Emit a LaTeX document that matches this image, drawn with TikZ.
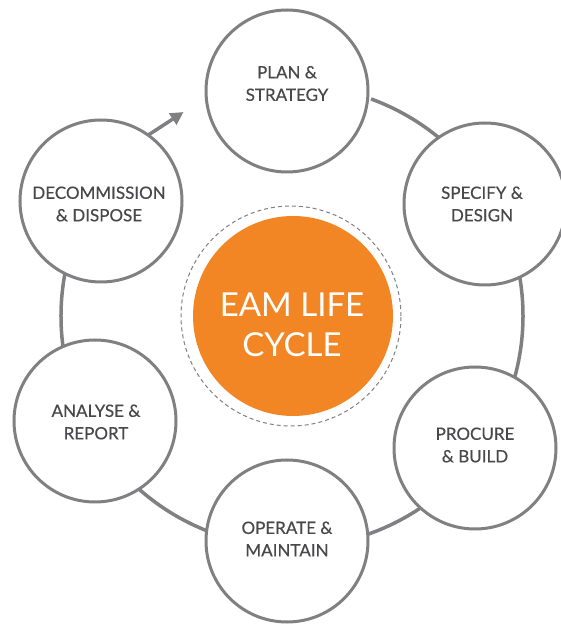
\documentclass[tikz,border=0pt]{standalone}
\usepackage{fontspec}
\setmainfont{Lato}
\newfontfamily\stagefont[FakeBold=0.4]{Lato}
\usetikzlibrary{arrows.meta,calc}
\definecolor{ringgray}{RGB}{128,128,131}
\definecolor{txtgray}{RGB}{72,72,74}
\definecolor{eamorange}{RGB}{243,134,36}
\begin{document}
\begin{tikzpicture}[x=1pt,y=1pt,
  stage/.style={circle,draw=ringgray,line width=3pt,fill=white,minimum size=162pt,inner sep=0pt},
  stagetext/.style={text=txtgray,font=\stagefont\fontsize{17}{22.5}\selectfont,align=center,inner sep=0pt},
  ringline/.style={draw=ringgray,line width=3.5pt},
  hubtext/.style={text=white,font=\fontsize{33}{40}\selectfont,align=center,inner sep=0pt}]
\useasboundingbox (0,0) rectangle (561,625);
\fill[white] (0,0) rectangle (561,625);
\coordinate (ringc) at (292,309);
% outer ring
\draw[ringline] (ringc) ++(128:231) arc[start angle=128,end angle=430,radius=231];
% centre
\node[circle,draw=ringgray,dashed,dash pattern=on 4pt off 3pt,line width=1pt,minimum size=220pt,inner sep=0pt] (dash) at (291,309) {};
\node[circle,fill=eamorange,minimum size=200pt,inner sep=0pt] (hub) at (293,309) {};
\node[hubtext] (hubt) at (292,300.5) {EAM LIFE\\CYCLE};
% stages
\node[stage] (plan) at (287,534) {};
\node[stage] (spec) at (485,421) {};
\node[stage] (proc) at (475,177) {};
\node[stage] (oper) at (287,84) {};
\node[stage] (anal) at (95,204) {};
\node[stage] (deco) at (101,424) {};
\node[stagetext] (plant) at (287,541.5) {PLAN \&\\STRATEGY};
\node[stagetext] (spect) at (482,421) {SPECIFY \&\\DESIGN};
\node[stagetext] (proct) at (475,180) {PROCURE\\\& BUILD};
\node[stagetext] (opert) at (287,86) {OPERATE \&\\MAINTAIN};
\node[stagetext] (analt) at (96,203) {ANALYSE \&\\REPORT};
\node[stagetext] (decot) at (99,421) {DECOMMISSION\\\& DISPOSE};
% arrow back to plan
\coordinate (arrowend) at ($(ringc)+(118:231)$);
\draw[ringline,-{Triangle[length=13pt,width=13pt]}] (deco.54) -- (arrowend);
\end{tikzpicture}
\end{document}
